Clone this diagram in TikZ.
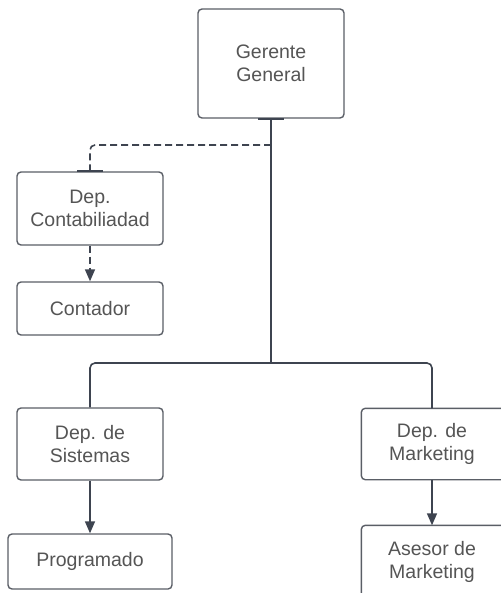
\documentclass[tikz,border=0pt]{standalone}
\usepackage{fontspec}
\setmainfont{Liberation Sans}
\usetikzlibrary{arrows.meta}
\definecolor{boxline}{HTML}{5A5E66}
\definecolor{conn}{HTML}{3E4450}
\definecolor{txt}{HTML}{555555}
\begin{document}
\begin{tikzpicture}[x=1pt,y=-1pt,
  box/.style={draw=boxline, line width=1.4pt, rounded corners=4pt, fill=white,
    text=txt, align=center, inner sep=0pt, font=\fontsize{19.5}{22.5}\selectfont},
  openbox/.style={box, draw=none},
  frame/.style={draw=boxline, line width=1.4pt, rounded corners=4pt},
  conn/.style={draw=conn, line width=1.6pt},
  tip/.style={-{Triangle[length=12pt,width=10pt]}}
]
\useasboundingbox (0,0) rectangle (500,593);
\node[box, minimum width=146pt, minimum height=109pt] (gg) at (271,63.5) {Gerente\\General};
\node[box, minimum width=146pt, minimum height=73pt] (cont) at (90,208.5) {Dep.\\Contabiliadad};
\node[box, minimum width=146pt, minimum height=53pt] (contador) at (90,308.5) {Contador};
\node[box, minimum width=146pt, minimum height=72pt] (sist) at (90,444) {Dep. de\\Sistemas};
\node[box, minimum width=164pt, minimum height=55pt] (prog) at (90,561.5) {Programado};
\node[openbox, minimum width=140pt, minimum height=70pt] (mkt) at (432,444) {Dep. de\\Marketing};
\node[openbox, minimum width=140pt, minimum height=72pt] (ases) at (432,562) {Asesor de\\Marketing};
% boxes running off the right edge of the page
\draw[frame] (mkt.north west) rectangle ([xshift=30pt]mkt.south east);
\draw[frame] (ases.north west) rectangle ([xshift=30pt]ases.south east);
\coordinate (dj) at (271,145);
\coordinate (j) at (271,363);
% main connectors
\draw[conn] (gg.south) -- (j);
\draw[conn, rounded corners=5pt] (j) -| (sist.north);
\draw[conn, rounded corners=5pt] (j) -| (mkt.north);
% dashed connector
\draw[conn, dashed, dash pattern=on 7pt off 4pt, rounded corners=5pt] (dj) -| (cont.north);
% endpoint marks
\draw[conn, line width=2pt] ([xshift=-13pt]gg.south) -- ([xshift=13pt]gg.south);
\draw[conn, line width=2pt] ([xshift=-13pt]cont.north) -- ([xshift=13pt]cont.north);
% arrows
\draw[conn, dashed, dash pattern=on 7pt off 4pt, tip] (cont.south) -- (contador.north);
\draw[conn, tip] (sist.south) -- (prog.north);
\draw[conn, tip] (mkt.south) -- (ases.north);
\end{tikzpicture}
\end{document}
